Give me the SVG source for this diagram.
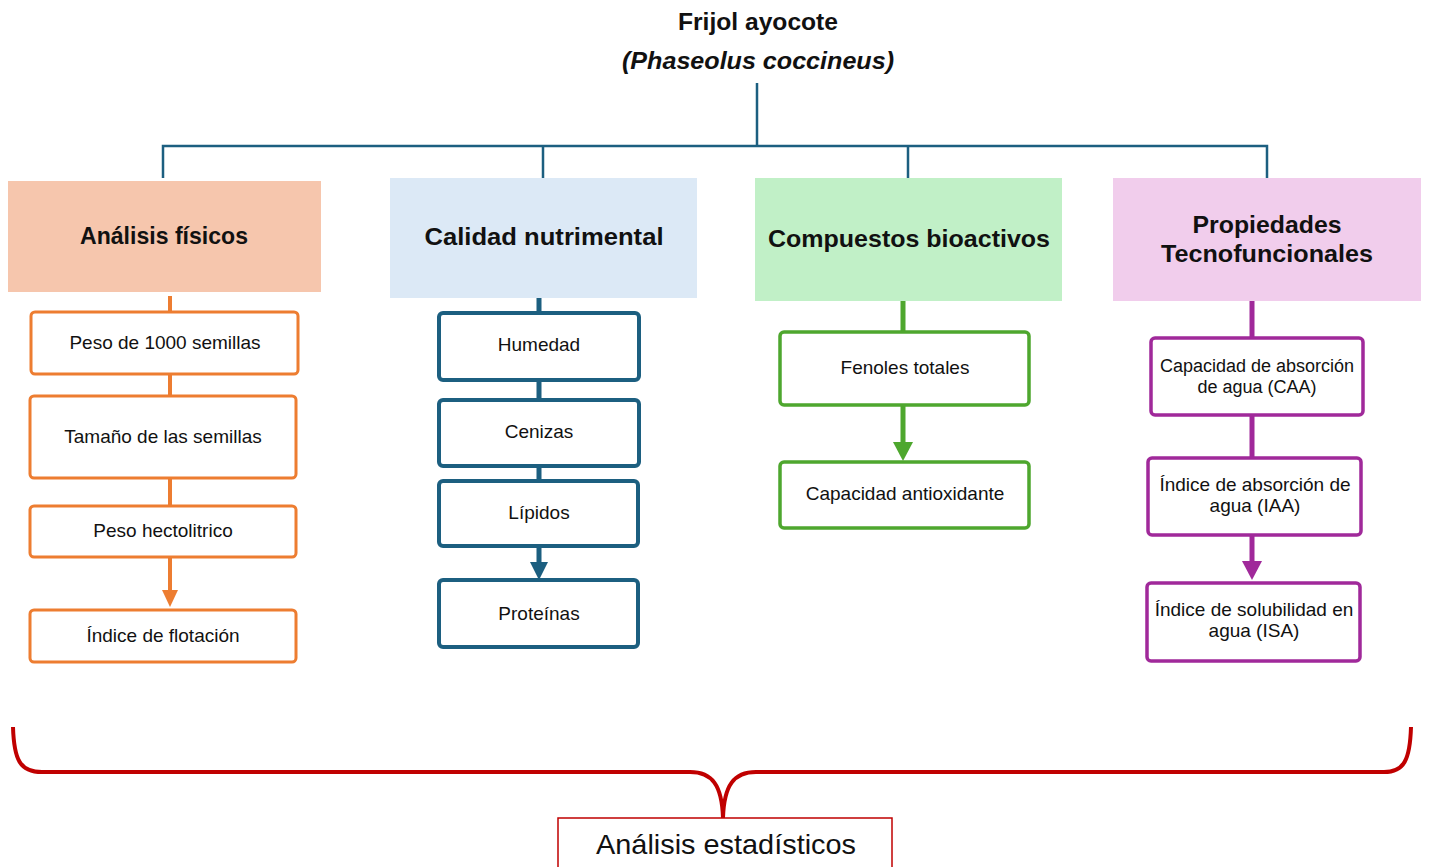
<svg xmlns="http://www.w3.org/2000/svg" width="1429" height="867" viewBox="0 0 1429 867">
<defs>
<style>
text{font-family:"Liberation Sans",Arial,sans-serif;text-anchor:middle;fill:#111}
.t{font-size:24.5px;font-weight:bold}
.h{font-size:24px;font-weight:bold}
.b{font-size:19px}
.o{fill:#fff;stroke:#ed7d31;stroke-width:3}
.bl{fill:#fff;stroke:#1c5f80;stroke-width:4}
.g{fill:#fff;stroke:#4ea72e;stroke-width:3.5}
.p{fill:#fff;stroke:#a0299a;stroke-width:3.5}
</style>
</defs>
<g id="title">
<text class="t" x="758" y="30" textLength="160" lengthAdjust="spacingAndGlyphs">Frijol ayocote</text>
<text class="t" x="758" y="69" font-style="italic" textLength="272" lengthAdjust="spacingAndGlyphs">(Phaseolus coccineus)</text>
</g>
<g id="connectors" fill="none">
<path d="M757,83V146M163,178V146H1267V178M543,146V178M908,146V178" stroke="#1c5f80" stroke-width="2.5"/>
<path d="M170,296V312M170,374V396M170,478V506M170,557V592" stroke="#ed7d31" stroke-width="4"/>
<path d="M162,590H178L170,607Z" fill="#ed7d31"/>
<path d="M539,298V312M539,380V399M539,466V481M539,547V564" stroke="#1c5f80" stroke-width="5"/>
<path d="M530,562H548L539,580Z" fill="#1c5f80"/>
<path d="M903,301V332M903,405V444" stroke="#4ea72e" stroke-width="5"/>
<path d="M893,442H913L903,461Z" fill="#4ea72e"/>
<path d="M1252,301V338M1252,415V458M1252,535V563" stroke="#a0299a" stroke-width="5"/>
<path d="M1242,561H1262L1252,580Z" fill="#a0299a"/>
</g>
<g id="n-fisicos">
<rect x="8" y="181" width="313" height="111" fill="#f6c6ad"/>
<text class="h" x="164" y="244" textLength="168" lengthAdjust="spacingAndGlyphs">Análisis físicos</text>
</g>
<g id="n-nutri">
<rect x="390" y="178" width="307" height="120" fill="#dce9f6"/>
<text class="h" x="544" y="245" textLength="239" lengthAdjust="spacingAndGlyphs">Calidad nutrimental</text>
</g>
<g id="n-bio">
<rect x="755" y="178" width="307" height="123" fill="#c1f0c7"/>
<text class="h" x="909" y="247" textLength="282" lengthAdjust="spacingAndGlyphs">Compuestos bioactivos</text>
</g>
<g id="n-tecno">
<rect x="1113" y="178" width="308" height="123" fill="#f1cdec"/>
<text class="h" x="1267" y="233" textLength="149" lengthAdjust="spacingAndGlyphs">Propiedades</text>
<text class="h" x="1267" y="262" textLength="212" lengthAdjust="spacingAndGlyphs">Tecnofuncionales</text>
</g>
<g id="n-peso1000"><rect class="o" x="31" y="312" width="267" height="62" rx="4"/><text class="b" x="165" y="349">Peso de 1000 semillas</text></g>
<g id="n-tamano"><rect class="o" x="30" y="396" width="266" height="82" rx="4"/><text class="b" x="163" y="443">Tamaño de las semillas</text></g>
<g id="n-hecto"><rect class="o" x="30" y="506" width="266" height="51" rx="4"/><text class="b" x="163" y="537">Peso hectolitrico</text></g>
<g id="n-flot"><rect class="o" x="30" y="610" width="266" height="52" rx="4"/><text class="b" x="163" y="642">Índice de flotación</text></g>
<g id="n-humedad"><rect class="bl" x="439" y="313" width="200" height="67" rx="4"/><text class="b" x="539" y="351">Humedad</text></g>
<g id="n-cenizas"><rect class="bl" x="439" y="400" width="200" height="66" rx="4"/><text class="b" x="539" y="438">Cenizas</text></g>
<g id="n-lipidos"><rect class="bl" x="439" y="481" width="199" height="65" rx="4"/><text class="b" x="539" y="519">Lípidos</text></g>
<g id="n-proteinas"><rect class="bl" x="439" y="580" width="199" height="67" rx="4"/><text class="b" x="539" y="620">Proteínas</text></g>
<g id="n-fenoles"><rect class="g" x="780" y="332" width="249" height="73" rx="4"/><text class="b" x="905" y="374">Fenoles totales</text></g>
<g id="n-antiox"><rect class="g" x="780" y="462" width="249" height="66" rx="4"/><text class="b" x="905" y="500">Capacidad antioxidante</text></g>
<g id="n-caa"><rect class="p" x="1151" y="338" width="212" height="77" rx="4"/><text class="b" x="1257" y="372" font-size="18" style="font-size:18px">Capacidad de absorción</text><text class="b" x="1257" y="393" style="font-size:18px">de agua (CAA)</text></g>
<g id="n-iaa"><rect class="p" x="1148" y="458" width="213" height="77" rx="4"/><text class="b" x="1255" y="491">Índice de absorción de</text><text class="b" x="1255" y="512">agua (IAA)</text></g>
<g id="n-isa"><rect class="p" x="1147" y="583" width="213" height="78" rx="4"/><text class="b" x="1254" y="616">Índice de solubilidad en</text><text class="b" x="1254" y="637">agua (ISA)</text></g>
<g id="brace">
<path d="M13,727C14,760 20,772 42,772H690C712,772 722,785 723,818C724,785 734,772 756,772H1384C1404,772 1410,760 1411,727" fill="none" stroke="#c00000" stroke-width="4"/>
</g>
<g id="n-estad">
<rect x="558" y="818" width="334" height="60" fill="#fff" stroke="#c00000" stroke-width="1.5"/>
<text x="726" y="854" font-size="28" textLength="260" lengthAdjust="spacingAndGlyphs">Análisis estadísticos</text>
</g>
</svg>
